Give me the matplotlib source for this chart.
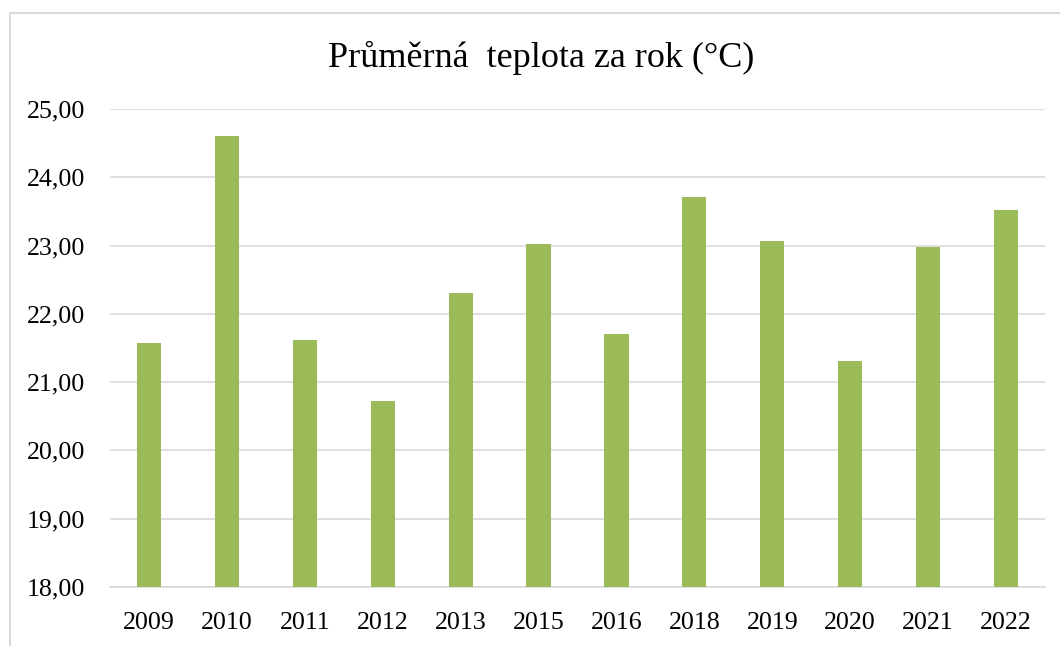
import matplotlib.pyplot as plt
from matplotlib.patches import Rectangle
from matplotlib.ticker import FuncFormatter

years = ["2009", "2010", "2011", "2012", "2013", "2015",
         "2016", "2018", "2019", "2020", "2021", "2022"]
temps = [21.57, 24.60, 21.61, 20.72, 22.30, 23.03,
         21.70, 23.71, 23.06, 21.31, 22.98, 23.52]

plt.rcParams['font.family'] = ['Liberation Serif', 'DejaVu Serif']

fig = plt.figure(figsize=(10.6, 6.46), dpi=100)
ax = fig.add_axes([0.1038, 0.0913, 0.882, 0.74])

# chart frame (cut off at the right and bottom like the screenshot)
fig.patches.append(Rectangle((10 / 1060, -0.05), 1.1, 1 - 13 / 646 + 0.05,
                             transform=fig.transFigure, fill=False,
                             edgecolor="#D9D9D9", linewidth=1.5))

x = range(len(years))
ax.bar(x, temps, width=0.31, color="#9BBB59", zorder=3)

ax.set_ylim(18, 25)
ax.set_xlim(-0.5, len(years) - 0.5)
ax.set_yticks(range(18, 26))
ax.yaxis.set_major_formatter(FuncFormatter(lambda v, p: f"{v:.2f}".replace(".", ",")))
ax.set_xticks(list(x))
ax.set_xticklabels(years)

ax.grid(axis="y", color="#D9D9D9", linewidth=1.2, zorder=0)
for s in ["top", "right", "left"]:
    ax.spines[s].set_visible(False)
ax.spines["bottom"].set_color("#D9D9D9")
ax.spines["bottom"].set_linewidth(1.2)
ax.tick_params(axis="both", length=0, labelsize=18.7, colors="#000000")
ax.tick_params(axis="y", pad=18)
ax.tick_params(axis="x", pad=18)

fig.text(541 / 1060, 1 - 58 / 646, "Průměrná  teplota za rok (°C)", ha="center",
         va="center", fontsize=26)

fig.savefig("out.png", dpi=100)
